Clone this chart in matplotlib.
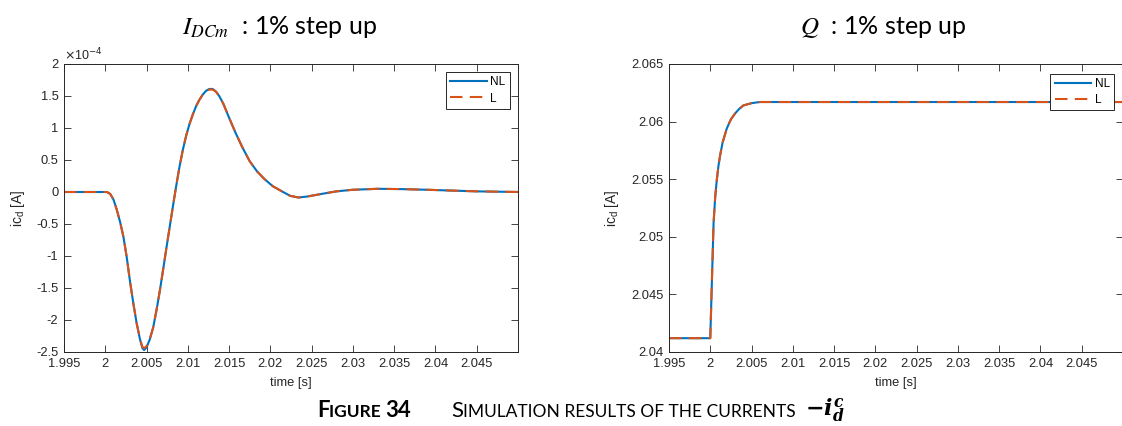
import matplotlib
matplotlib.use('Agg')
import matplotlib.pyplot as plt
from matplotlib.offsetbox import TextArea, HPacker, AnnotationBbox

# left panel: response to I_DCm 1% step (values in 1e-4 A)
t_idc = [1.995, 2.0, 2.0002, 2.0006, 2.0010, 2.0014, 2.0018, 2.0022, 2.0026, 2.0030,
         2.0034, 2.0038, 2.0042, 2.0045, 2.0047, 2.0050, 2.0054, 2.0058, 2.0062, 2.0066,
         2.0070, 2.0074, 2.0078, 2.0082, 2.0086, 2.0090, 2.0094, 2.0098, 2.0102, 2.0106,
         2.0110, 2.0114, 2.0118, 2.0122, 2.0126, 2.0130, 2.0134, 2.0138, 2.0143, 2.0150,
         2.0158, 2.0166, 2.0175, 2.0184, 2.0193, 2.0203, 2.0214, 2.0224, 2.0234, 2.0245,
         2.0262, 2.0280, 2.0300, 2.0330, 2.0360, 2.0390, 2.0420, 2.0450, 2.0500]
icd_nl_idc = [0, 0, 0, -0.03, -0.12, -0.28, -0.47, -0.70, -1.02, -1.40,
              -1.74, -2.05, -2.30, -2.44, -2.47, -2.43, -2.30, -2.12, -1.85, -1.55,
              -1.22, -0.88, -0.55, -0.22, 0.10, 0.40, 0.66, 0.88, 1.06, 1.21,
              1.34, 1.44, 1.52, 1.58, 1.61, 1.61, 1.57, 1.50, 1.38, 1.16,
              0.92, 0.70, 0.48, 0.32, 0.20, 0.09, 0.01, -0.06, -0.086, -0.07,
              -0.03, 0.01, 0.035, 0.05, 0.045, 0.035, 0.022, 0.01, 0.0]
icd_l_idc = [0, 0, 0, -0.03, -0.12, -0.28, -0.47, -0.70, -1.02, -1.40,
             -1.74, -2.05, -2.29, -2.42, -2.44, -2.41, -2.29, -2.12, -1.85, -1.55,
             -1.22, -0.88, -0.55, -0.22, 0.10, 0.40, 0.66, 0.88, 1.06, 1.21,
             1.34, 1.44, 1.52, 1.58, 1.60, 1.60, 1.57, 1.50, 1.38, 1.16,
             0.92, 0.70, 0.48, 0.32, 0.20, 0.09, 0.01, -0.06, -0.086, -0.07,
             -0.03, 0.01, 0.035, 0.05, 0.045, 0.035, 0.022, 0.01, 0.0]

# right panel: response to Q 1% step
t_q = [1.995, 2.0, 2.0002, 2.0004, 2.0006, 2.0008, 2.0010, 2.0012, 2.0015, 2.0020,
       2.0025, 2.0030, 2.0035, 2.0040, 2.0045, 2.0050, 2.0060, 2.0500]
icd_nl_q = [2.0412, 2.0412, 2.0462, 2.0512, 2.0535, 2.0550, 2.0562, 2.0571, 2.0582, 2.0594,
            2.0602, 2.0607, 2.0611, 2.0614, 2.0615, 2.0616, 2.0617, 2.0617]
icd_l_q = [2.0412, 2.0412, 2.0462, 2.0512, 2.0535, 2.0550, 2.0562, 2.0571, 2.0582, 2.0594,
           2.0602, 2.0607, 2.0611, 2.0614, 2.0615, 2.0616, 2.0617, 2.0617]

xticks = [1.995, 2.0, 2.005, 2.01, 2.015, 2.02, 2.025, 2.03, 2.035, 2.04, 2.045]
yticks_idc = [-2.5, -2, -1.5, -1, -0.5, 0, 0.5, 1, 1.5, 2]
yticks_q = [2.04, 2.045, 2.05, 2.055, 2.06, 2.065]

plt.rcParams['axes.unicode_minus'] = False
plt.rcParams['font.family'] = ['Liberation Sans', 'DejaVu Sans']
plt.rcParams['mathtext.it'] = 'DejaVu Serif:italic:bold'
plt.rcParams['mathtext.rm'] = 'DejaVu Serif:bold'

dark = '#262626'
blue = '#0072BD'
orange = '#D95319'

fig = plt.figure(figsize=(11.22, 4.26), dpi=100)
ax1 = fig.add_axes([64 / 1122, 74 / 426, 454 / 1122, 288 / 426])
ax2 = fig.add_axes([669 / 1122, 74 / 426, 454 / 1122, 288 / 426])

legend_kw = dict(loc='upper right', fontsize=8.5, fancybox=False, edgecolor=dark,
                 framealpha=1, borderpad=0.35, handlelength=3.1, handletextpad=0.3,
                 labelspacing=0.35)


def style(ax, yt, ylab_x):
    ax.set_xlim(1.995, 2.05)
    ax.set_xticks(xticks)
    ax.set_xticklabels(['%g' % v for v in xticks])
    ax.set_yticks(yt)
    ax.set_yticklabels(['%g' % v for v in yt])
    ax.tick_params(direction='in', length=5, width=0.6, colors=dark, labelsize=9.3,
                   top=True, right=True)
    ax.tick_params(axis='x', pad=4.5)
    ax.tick_params(axis='y', pad=4)
    for s in ax.spines.values():
        s.set_color(dark)
        s.set_linewidth(0.7)
    ax.set_xlabel('time [s]', fontsize=9.3, color=dark, labelpad=5)
    ax.set_ylabel('ic$_\\mathregular{d}$ [A]', fontsize=10, color=dark)
    ax.yaxis.set_label_coords(ylab_x, 0.5)


ax1.plot(t_idc, icd_nl_idc, color=blue, lw=1.5, label='NL')
ax1.plot(t_idc, icd_l_idc, color=orange, lw=1.5, ls=(0, (6, 3.5)), label='L')
ax1.set_ylim(-2.5, 2)
style(ax1, yticks_idc, -0.082)
ax1.legend(borderaxespad=0.7, **legend_kw).get_frame().set_linewidth(0.7)
ax1.text(0.0, 1.004, '$\\times$10$^{-4}$', transform=ax1.transAxes, fontsize=9,
         color=dark, ha='left', va='bottom')

ax2.plot(t_q, icd_nl_q, color=blue, lw=1.5, label='NL')
ax2.plot(t_q, icd_l_q, color=orange, lw=1.5, ls=(0, (6, 3.5)), label='L')
ax2.set_ylim(2.04, 2.065)
style(ax2, yticks_q, -0.106)
# right panel runs off the picture's edge, so pin the legend to the visible part
ax2.legend(bbox_to_anchor=(1114 / 1122, 1 - 74 / 426), bbox_transform=fig.transFigure,
           borderaxespad=0, **legend_kw).get_frame().set_linewidth(0.7)

fig.text(280 / 1122, 1 - 27 / 426, '$I_{DCm}$  : 1% step up', fontsize=18,
         family='Lato', math_fontfamily='stix', ha='center', va='center')
fig.text(883 / 1122, 1 - 27 / 426, '$Q$  : 1% step up', fontsize=18,
         family='Lato', math_fontfamily='stix', ha='center', va='center')

big = dict(fontsize=16, family='Lato', color='black')
small = dict(fontsize=12.5, family='Lato', color='black')
parts = [
    TextArea('F', textprops=dict(big, weight='bold')),
    TextArea('IGURE ', textprops=dict(small, weight='bold')),
    TextArea('34', textprops=dict(big, weight='bold')),
    TextArea('       ', textprops=big),
    TextArea('S', textprops=big),
    TextArea('IMULATION RESULTS OF THE CURRENTS  ', textprops=small),
    TextArea('$-i_d^c$', textprops=dict(fontsize=16, math_fontfamily='custom')),
]
pack = HPacker(children=parts, align='baseline', pad=0, sep=0)
ab = AnnotationBbox(pack, (581 / 1122, 15 / 426), xycoords='figure fraction',
                    frameon=False, box_alignment=(0.5, 0.5))
fig.add_artist(ab)

fig.savefig('out.png', dpi=100)
